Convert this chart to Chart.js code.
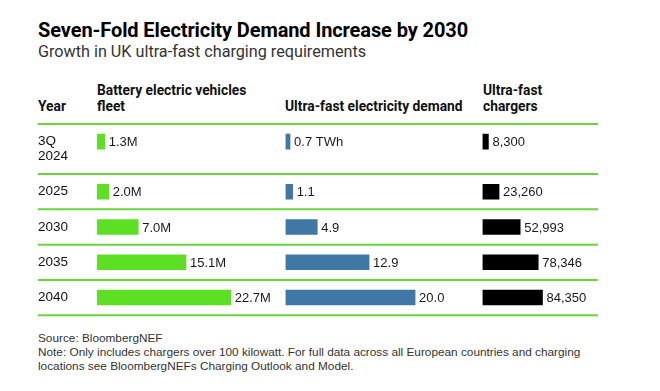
<!DOCTYPE html>
<html lang="en">
<head>
<meta charset="UTF-8">
<title>Seven-Fold Electricity Demand Increase by 2030</title>
<script src="https://cdn.jsdelivr.net/npm/chart.js@4"></script>
<style>
  body {
    margin: 0;
    width: 660px;
    height: 391px;
    position: relative;
    overflow: hidden;
    background: #fff;
    font-family: Roboto, "Liberation Sans", sans-serif;
    color: #000;
  }
  #title { position: absolute; left: 38px; top: 18px; font-size: 20px; font-weight: 700; letter-spacing: -0.1px; }
  #subtitle { position: absolute; left: 38px; top: 42px; font-size: 16.2px; color: #333; }
  .head { position: absolute; bottom: 277px; font-size: 13.8px; font-weight: 700; line-height: 16px; color: #111; }
  #table { position: absolute; left: 0; top: 112px; width: 660px; height: 218px; }
  #foot { position: absolute; left: 38px; top: 331px; font-family: "Liberation Sans", Arial, sans-serif; font-size: 11.8px; line-height: 14px; color: #333; }
</style>
</head>
<body>
  <div id="title">Seven-Fold Electricity Demand Increase by 2030</div>
  <div id="subtitle">Growth in UK ultra-fast charging requirements</div>

  <div class="head" style="left:38px">Year</div>
  <div class="head" style="left:97px">Battery electric vehicles<br>fleet</div>
  <div class="head" style="left:285px">Ultra-fast electricity demand</div>
  <div class="head" style="left:483px">Ultra-fast<br>chargers</div>

  <div id="table"><canvas id="grafico"></canvas></div>

  <div id="foot">
    Source: BloombergNEF<br>
    Note: Only includes chargers over 100 kilowatt. For full data across all European countries and charging<br>
    locations see BloombergNEFs Charging Outlook and Model.
  </div>

<script>
// rows of the table
const years = [['3Q', '2024'], '2025', '2030', '2035', '2040'];
// battery electric vehicles fleet, millions
const fleet = [1.3, 2.0, 7.0, 15.1, 22.7];
// ultra-fast electricity demand, TWh
const demand = [0.7, 1.1, 4.9, 12.9, 20.0];
// ultra-fast chargers
const chargers = [8300, 23260, 52993, 78346, 84350];

const green = '#5de024';
const blue = '#3f78a5';
const ruleColor = '#6ad43c';

const formats = [
    v => v.toFixed(1) + 'M',
    (v, i) => v.toFixed(1) + (i === 0 ? ' TWh' : ''),
    v => v.toLocaleString('en-US')
];

// category axis where a row gets taller for every extra line in its label
class RowScale extends Chart.CategoryScale {
    configure() {
        super.configure();
        const labels = this.getLabels();
        const lineH = Chart.helpers.toFont(this.options.ticks.font).lineHeight;
        this._lines = labels.map(l => Array.isArray(l) ? l.length : 1);
        const extra = this._lines.reduce((s, n) => s + n - 1, 0) * lineH;
        const rowH = (this.bottom - this.top - extra) / labels.length;
        this._lineH = lineH;
        this._rows = [];
        let y = this.top;
        this._lines.forEach(n => {
            const h = rowH + (n - 1) * lineH;
            this._rows.push({ top: y, bottom: y + h, bar: y + rowH / 2 });
            y += h;
        });
    }
    getPixelForValue(value) {
        const i = typeof value === 'number' ? value : this.parse(value);
        const r = this._rows && this._rows[Math.round(i)];
        return r ? r.bar : super.getPixelForValue(value);
    }
    getPixelForTick(index) {
        return this._rows[index].bar + (this._lines[index] - 1) * this._lineH / 2;
    }
}
RowScale.id = 'rows';
RowScale.defaults = {};
Chart.register(RowScale);

const rowRules = {
    id: 'rowRules',
    beforeDatasetsDraw(chart) {
        const y = chart.scales.y;
        const ctx = chart.ctx;
        const edges = [y._rows[0].top].concat(y._rows.map(r => r.bottom));
        ctx.save();
        ctx.strokeStyle = ruleColor;
        ctx.lineWidth = 2;
        edges.forEach(e => {
            ctx.beginPath();
            ctx.moveTo(y.left, e);
            ctx.lineTo(chart.chartArea.right, e);
            ctx.stroke();
        });
        ctx.restore();
    }
};

const valueLabels = {
    id: 'valueLabels',
    afterDatasetsDraw(chart) {
        const ctx = chart.ctx;
        ctx.save();
        ctx.font = '13px "Liberation Sans", Arial, sans-serif';
        ctx.fillStyle = '#1a1a1a';
        ctx.textBaseline = 'middle';
        chart.data.datasets.forEach((ds, di) => {
            chart.getDatasetMeta(di).data.forEach((bar, i) => {
                ctx.fillText(formats[di](ds.data[i], i), bar.x + 4, bar.y + 1);
            });
        });
        ctx.restore();
    }
};

function gerarGrafico() {
    const ctx = document.getElementById('grafico').getContext('2d');
    new Chart(ctx, {
        type: 'bar',
        data: {
            labels: years,
            datasets: [
                { data: fleet, xAxisID: 'x1', backgroundColor: green },
                { data: demand, xAxisID: 'x2', backgroundColor: blue },
                { data: chargers, xAxisID: 'x3', backgroundColor: '#000' }
            ]
        },
        options: {
            indexAxis: 'y',
            responsive: true,
            maintainAspectRatio: false,
            animation: false,
            events: [],
            layout: { padding: { left: 38, right: 62, top: 12, bottom: 12 } },
            datasets: { bar: { grouped: false, barThickness: 15, borderWidth: 0 } },
            plugins: {
                legend: { display: false },
                tooltip: { enabled: false }
            },
            scales: {
                y: {
                    type: 'rows',
                    offset: true,
                    grid: { display: false },
                    border: { display: false },
                    afterFit: s => { s.width = 59; },
                    ticks: {
                        crossAlign: 'far',
                        autoSkip: false,
                        padding: 0,
                        color: '#111',
                        font: { family: '"Liberation Sans", Arial, sans-serif', size: 13.5, lineHeight: 1.1 }
                    }
                },
                x1: { position: 'bottom', stack: 'cols', stackWeight: 188.5, min: 0, max: 32, display: false },
                x2: { position: 'bottom', stack: 'cols', stackWeight: 197, min: 0, max: 30.4, display: false },
                x3: { position: 'bottom', stack: 'cols', stackWeight: 115.5, min: 0, max: 162400, display: false }
            }
        },
        plugins: [rowRules, valueLabels]
    });
}

window.onload = function () {
    gerarGrafico();
};
</script>
</body>
</html>
